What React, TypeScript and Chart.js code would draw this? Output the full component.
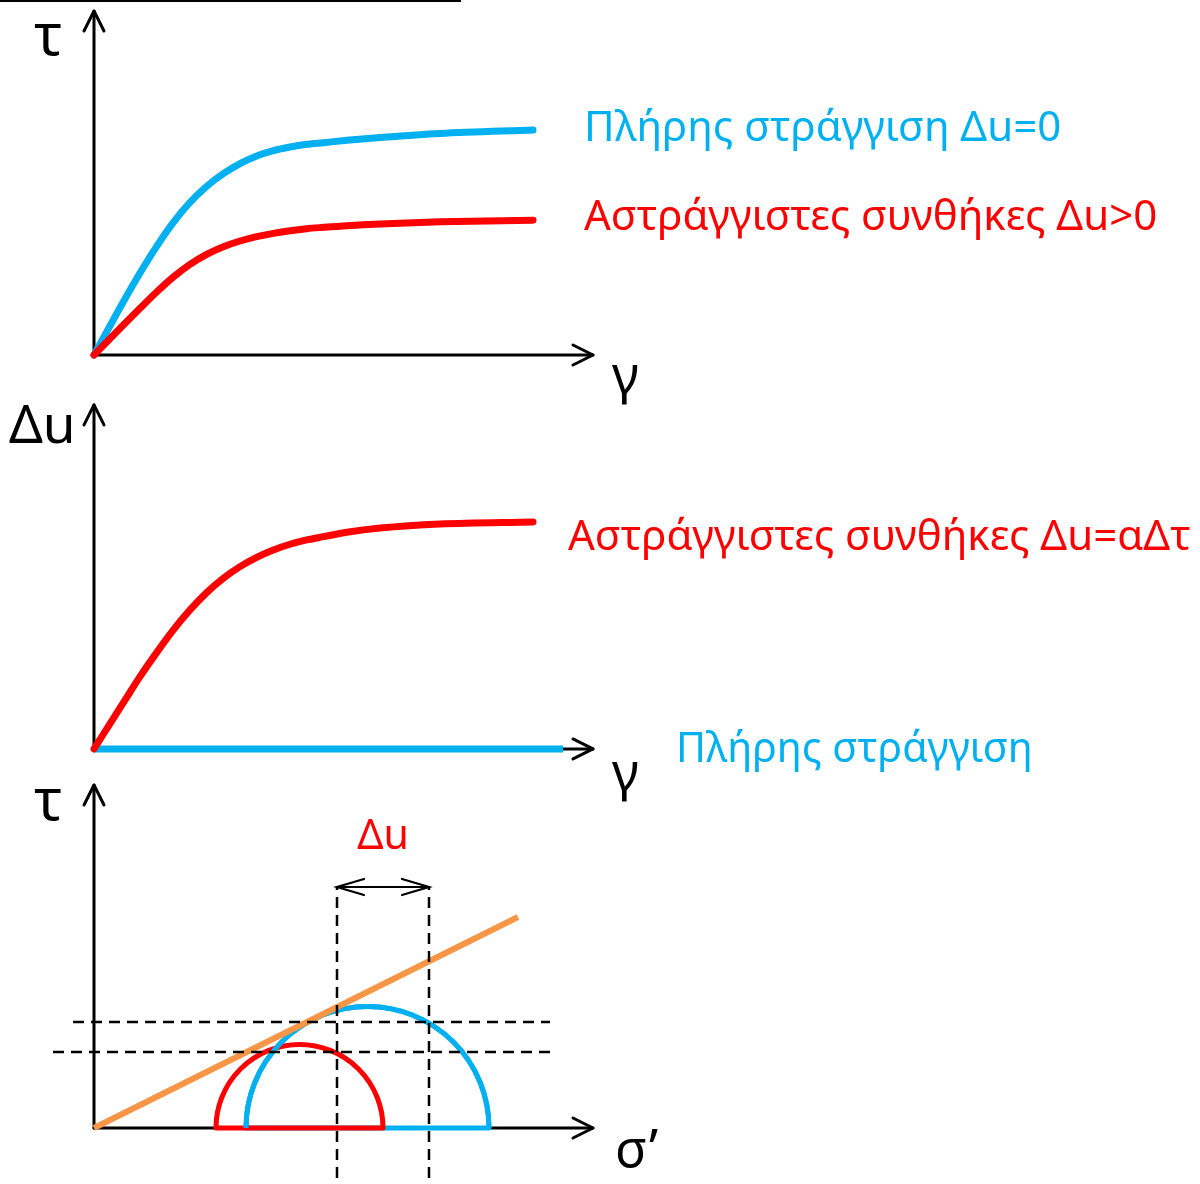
import { useEffect, useRef } from 'react';
import { Chart, registerables } from 'chart.js';

Chart.register(...registerables);

// Shear strain steps shared by the τ–γ and Δu–γ curves
const strain = [0, 0.587, 0.92, 1.253, 1.587, 1.92, 2.253, 2.587, 2.92, 3.253, 3.587, 3.92, 4.253, 4.587, 5.06, 5.72, 6.92, 8.78];
// τ–γ: drained (Δu = 0) and undrained (Δu > 0)
const tauDrained = [0, 1.55, 2.384, 3.159, 3.857, 4.438, 4.903, 5.271, 5.562, 5.785, 5.94, 6.047, 6.124, 6.172, 6.24, 6.32, 6.44, 6.54];
const tauUndrained = [0, 0.872, 1.357, 1.831, 2.267, 2.636, 2.927, 3.149, 3.314, 3.44, 3.537, 3.614, 3.672, 3.711, 3.76, 3.81, 3.87, 3.92];
// Δu–γ: undrained build-up and drained (flat) response
const duUndrained = [0, 1.347, 2.103, 2.8, 3.459, 4.041, 4.544, 4.962, 5.3, 5.572, 5.785, 5.95, 6.076, 6.172, 6.3, 6.42, 6.54, 6.6];
const drainedStrain = [0, 9.38];
const duDrained = [0, 0];

// τ–σ′: failure envelope and Mohr circles [σ3′, σ1′]
const envelopeSigma = [0, 8.48];
const envelopeTau = [0, 4.22];
const mohrUndrained = [2.44, 5.78];
const mohrDrained = [3.04, 7.9];
// Construction lines
const sigmaMarks = [4.86, 6.7];
const sigmaMarkTau = [-1.0, 4.82];
const tauMarks = [2.12, 1.52];
const tauMarkFrom = [-0.42, -0.82];
const tauMarkTo = 9.12;

const BLUE = '#00B0F0';
const RED = '#FF0000';
const ORANGE = '#F79646';
const FONT = '"Noto Sans", "DejaVu Sans", sans-serif';

function arrowHead(ctx: CanvasRenderingContext2D, x0: number, y0: number, x1: number, y1: number, back: number, spread: number) {
  const a = Math.atan2(y1 - y0, x1 - x0);
  const ux = Math.cos(a), uy = Math.sin(a);
  const px = -uy, py = ux;
  ctx.beginPath();
  ctx.moveTo(x1 - ux * back + px * spread, y1 - uy * back + py * spread);
  ctx.lineTo(x1, y1);
  ctx.lineTo(x1 - ux * back - px * spread, y1 - uy * back - py * spread);
  ctx.stroke();
}

function arrowLine(ctx: CanvasRenderingContext2D, x0: number, y0: number, x1: number, y1: number) {
  ctx.beginPath();
  ctx.moveTo(x0, y0);
  ctx.lineTo(x1, y1);
  ctx.stroke();
  arrowHead(ctx, x0, y0, x1, y1, 20, 10);
}

const sketchPlugin = {
  id: 'sketch',
  beforeDatasetsDraw(chart: any) {
    const { ctx, scales, chartArea } = chart;
    const X = (v: number) => scales.x.getPixelForValue(v);
    ctx.save();
    // slide border fragment
    ctx.fillStyle = '#000';
    ctx.fillRect(chartArea.left, chartArea.top, X(7.34) - chartArea.left, 2);

    // axes with open arrowheads
    ctx.strokeStyle = '#000';
    ctx.lineWidth = 3;
    ctx.lineCap = 'round';
    ctx.lineJoin = 'round';
    const axes = [
      { id: 'y1', top: 10, right: 9.98 },
      { id: 'y2', top: 10, right: 9.98 },
      { id: 'y3', top: 6.86, right: 9.98 },
    ];
    axes.forEach((a) => {
      const Y = (v: number) => scales[a.id].getPixelForValue(v);
      arrowLine(ctx, X(0), Y(0), X(0), Y(a.top));
      arrowLine(ctx, X(0), Y(0), X(a.right), Y(0));
    });

    // Mohr circles
    const Y3 = (v: number) => scales.y3.getPixelForValue(v);
    const drawCircle = (c: number[], color: string, closed: boolean) => {
      const centre = (c[0] + c[1]) / 2;
      const radius = (c[1] - c[0]) / 2;
      const cx = X(centre);
      const rx = X(c[1]) - cx;
      const ry = Y3(0) - Y3(radius);
      ctx.strokeStyle = color;
      ctx.lineWidth = 5;
      ctx.lineCap = 'butt';
      ctx.beginPath();
      ctx.ellipse(cx, Y3(0), rx, ry, 0, Math.PI, 2 * Math.PI);
      if (closed) ctx.closePath();
      ctx.stroke();
    };
    drawCircle(mohrDrained, BLUE, true);
    drawCircle(mohrUndrained, RED, true);
    drawCircle(mohrDrained, BLUE, false);
    ctx.restore();
  },
  afterDatasetsDraw(chart: any) {
    const { ctx, scales } = chart;
    const X = (v: number) => scales.x.getPixelForValue(v);
    const Y = (id: string, v: number) => scales[id].getPixelForValue(v);
    ctx.save();

    // Δu dimension arrow
    const ay = Y('y3', sigmaMarkTau[1]);
    const ax0 = X(sigmaMarks[0]);
    const ax1 = X(sigmaMarks[1]);
    ctx.strokeStyle = '#000';
    ctx.lineWidth = 2.2;
    ctx.lineCap = 'round';
    ctx.beginPath();
    ctx.moveTo(ax0, ay);
    ctx.lineTo(ax1, ay);
    ctx.stroke();
    arrowHead(ctx, ax1, ay, ax0, ay, 27, 8);
    arrowHead(ctx, ax0, ay, ax1, ay, 27, 8);

    const labels: { t: string; c: string; s: number; x: number; y: string; v: number; align?: CanvasTextAlign }[] = [
      { t: 'τ', c: '#000', s: 58, x: -1.2, y: 'y1', v: 8.72 },
      { t: 'γ', c: '#000', s: 52, x: 10.36, y: 'y1', v: -1.1 },
      { t: 'Πλήρης στράγγιση Δu=0', c: BLUE, s: 42, x: 9.8, y: 'y1', v: 6.22 },
      { t: 'Αστράγγιστες συνθήκες Δu>0', c: RED, s: 42, x: 9.8, y: 'y1', v: 3.63 },
      { t: 'Δu', c: '#000', s: 53, x: -1.7, y: 'y2', v: 8.9 },
      { t: 'Αστράγγιστες συνθήκες Δu=αΔτ', c: RED, s: 42, x: 9.48, y: 'y2', v: 5.78 },
      { t: 'γ', c: '#000', s: 52, x: 10.36, y: 'y2', v: -1.19 },
      { t: 'Πλήρης στράγγιση', c: BLUE, s: 41, x: 11.64, y: 'y2', v: -0.38 },
      { t: 'τ', c: '#000', s: 58, x: -1.2, y: 'y3', v: 6.16 },
      { t: 'σ’', c: '#000', s: 52, x: 10.42, y: 'y3', v: -0.78 },
      { t: 'Δu', c: RED, s: 41, x: (sigmaMarks[0] + sigmaMarks[1]) / 2, y: 'y3', v: 5.58, align: 'center' },
    ];
    ctx.textBaseline = 'alphabetic';
    labels.forEach((l) => {
      ctx.font = `${l.s}px ${FONT}`;
      ctx.fillStyle = l.c;
      ctx.textAlign = l.align || 'left';
      ctx.fillText(l.t, X(l.x), Y(l.y, l.v));
    });
    ctx.restore();
  },
};

const pts = (xs: number[], ys: number[]) => xs.map((x, i) => ({ x, y: ys[i] }));

export default function App() {
  const ref = useRef<HTMLCanvasElement>(null);

  useEffect(() => {
    if (!ref.current) return;
    const curve = { pointRadius: 0, borderWidth: 7, cubicInterpolationMode: 'monotone' as const, borderCapStyle: 'round' as const, borderJoinStyle: 'round' as const, fill: false };
    const dashed = { pointRadius: 0, borderWidth: 2.5, borderColor: '#000', borderDash: [11, 7], fill: false, yAxisID: 'y3', order: 0 };
    const chart = new Chart(ref.current, {
      type: 'line',
      data: {
        datasets: [
          { ...curve, label: 'τ Δu>0', data: pts(strain, tauUndrained), borderColor: RED, yAxisID: 'y1', order: 1 },
          { ...curve, label: 'τ Δu=0', data: pts(strain, tauDrained), borderColor: BLUE, yAxisID: 'y1', order: 2 },
          { ...curve, label: 'Δu αστράγγιστη', data: pts(strain, duUndrained), borderColor: RED, yAxisID: 'y2', order: 1 },
          { ...curve, label: 'Δu στραγγιζόμενη', data: pts(drainedStrain, duDrained), borderColor: BLUE, borderCapStyle: 'butt', yAxisID: 'y2', order: 2 },
          { pointRadius: 0, borderWidth: 6, label: 'περιβάλλουσα', data: pts(envelopeSigma, envelopeTau), borderColor: ORANGE, borderCapStyle: 'butt', yAxisID: 'y3', order: 1 },
          ...sigmaMarks.map((s) => ({ ...dashed, label: 'σ', data: pts([s, s], sigmaMarkTau) })),
          ...tauMarks.map((t, i) => ({ ...dashed, label: 'τ', data: pts([tauMarkFrom[i], tauMarkTo], [t, t]) })),
        ],
      },
      options: {
        responsive: false,
        maintainAspectRatio: false,
        animation: false,
        devicePixelRatio: 1,
        layout: { padding: 0 },
        events: [],
        plugins: { legend: { display: false }, tooltip: { enabled: false } },
        scales: {
          x: { type: 'linear', display: false, min: -1.88, max: 22.12 },
          y1: { type: 'linear', display: false, min: -24.1, max: 10.32 },
          y2: { type: 'linear', display: false, min: -12.645, max: 21.77 },
          y3: { type: 'linear', display: false, min: -1.12, max: 22.56 },
        },
      },
      plugins: [sketchPlugin],
    });
    return () => chart.destroy();
  }, []);

  return (
    <div style={{ position: 'absolute', left: 0, top: 0, width: 1200, height: 1184, background: '#fff' }}>
      <canvas ref={ref} width={1200} height={1184} style={{ display: 'block', width: 1200, height: 1184 }} />
    </div>
  );
}
